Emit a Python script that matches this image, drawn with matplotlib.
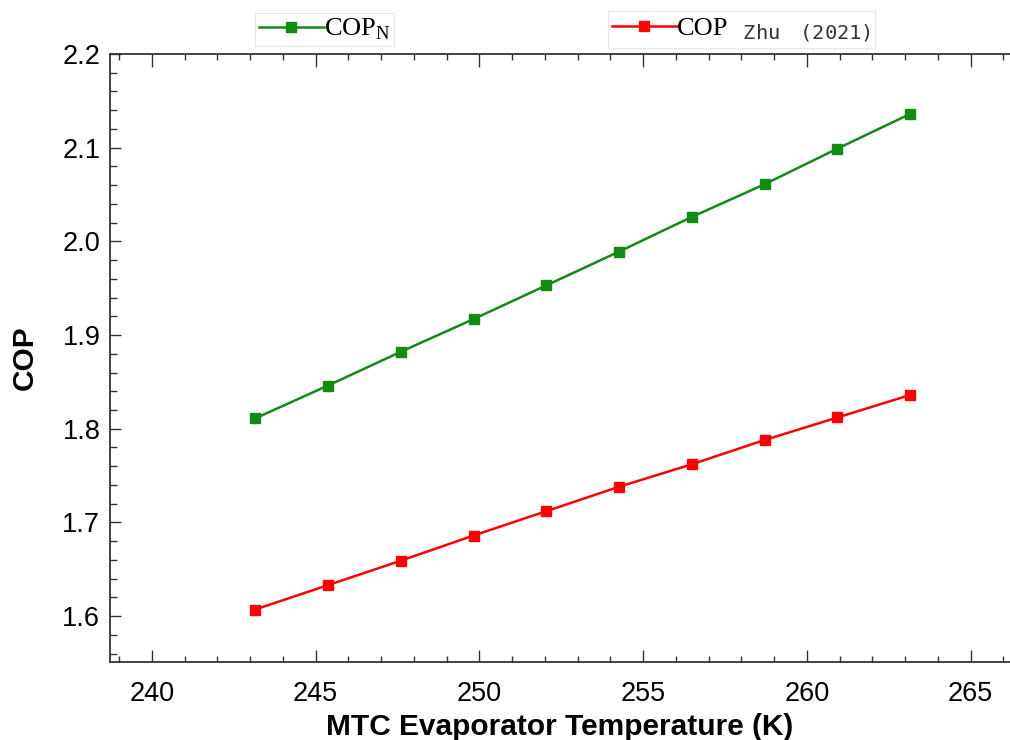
import numpy as np
import matplotlib.pyplot as plt
from matplotlib.lines import Line2D
from matplotlib.offsetbox import TextArea
from matplotlib.ticker import MultipleLocator

# evaporator temperature (K)
temp_k = [243.15, 245.37, 247.59, 249.82, 252.04, 254.26, 256.48, 258.71, 260.93, 263.15]
cop_n = [1.811, 1.846, 1.882, 1.917, 1.953, 1.989, 2.026, 2.061, 2.099, 2.136]
cop_zhu = [1.607, 1.633, 1.659, 1.686, 1.712, 1.738, 1.762, 1.788, 1.812, 1.836]

green = "#138a13"
red = "#ff0000"

plt.rcParams["font.family"] = ["Liberation Sans", "DejaVu Sans"]

fig = plt.figure(figsize=(10.1, 7.4), dpi=100)
ax = fig.add_axes([110 / 1010, 1 - 662 / 740, 1 - 110 / 1010, (662 - 54) / 740])

ax.plot(temp_k, cop_n, color=green, lw=1.8, marker="s", ms=7)
ax.plot(temp_k, cop_zhu, color=red, lw=1.8, marker="s", ms=7)

ax.set_xlim(238.72, 266.2)
ax.set_ylim(1.551, 2.2)
ax.xaxis.set_major_locator(MultipleLocator(5))
ax.xaxis.set_minor_locator(MultipleLocator(1))
ax.yaxis.set_major_locator(MultipleLocator(0.1))
ax.yaxis.set_minor_locator(MultipleLocator(0.02))
ax.yaxis.set_major_formatter(plt.FormatStrFormatter("%.1f"))

ax.spines["right"].set_visible(False)
for s in ["left", "bottom", "top"]:
    ax.spines[s].set_linewidth(1.3)
    ax.spines[s].set_color("#333333")

ax.tick_params(which="both", direction="in", top=True, right=False, colors="#333333",
               labelcolor="#000000", width=1.0)
ax.tick_params(axis="x", which="major", length=9, pad=14, labelsize=19.5)
ax.tick_params(axis="x", which="minor", length=4.5)
ax.tick_params(axis="y", which="major", length=8, pad=7, labelsize=19.5)
ax.tick_params(axis="y", which="minor", length=5)

ax.set_xlabel("MTC Evaporator Temperature (K)", fontsize=21.5, fontweight="bold", labelpad=4)
ax.set_ylabel("COP", fontsize=21.5, fontweight="bold")
ax.yaxis.set_label_coords(-0.079, 0.5)

# legends: two separate boxes above the axes
h1 = Line2D([], [], color=green, lw=1.8, marker="s", ms=7)
h2 = Line2D([], [], color=red, lw=1.8, marker="s", ms=7)
leg_kw = dict(frameon=True, fancybox=False, edgecolor="#e6e6e6", handlelength=2.45,
              handletextpad=0.0, borderpad=0.15, borderaxespad=0, framealpha=1,
              prop={"family": ["Liberation Serif", "DejaVu Serif"], "size": 19})
leg1 = fig.legend([h1], [r"COP$_\mathregular{N}$"], loc="upper left",
                  bbox_to_anchor=(255 / 1010, 1 - 13 / 740), **leg_kw)
leg2 = fig.legend([h2], ["COP"], loc="upper left",
                  bbox_to_anchor=(608 / 1010, 1 - 11 / 740), **leg_kw)
leg1.get_frame().set_linewidth(0.8)
leg2.get_frame().set_linewidth(0.8)

# larger monospace subscript for the second entry, packed next to "COP"
sub = TextArea("\u00a0\u00a0" + r"$_{\mathtt{Zhu}\ \ \ \mathtt{(2021)}}$",
               textprops=dict(size=21, color="#333333",
                              family=["Liberation Serif", "DejaVu Serif"]))
sub.set_figure(fig)
item = leg2._legend_handle_box.get_children()[0].get_children()[0]
item.get_children().append(sub)

fig.savefig("out.png", dpi=100)
